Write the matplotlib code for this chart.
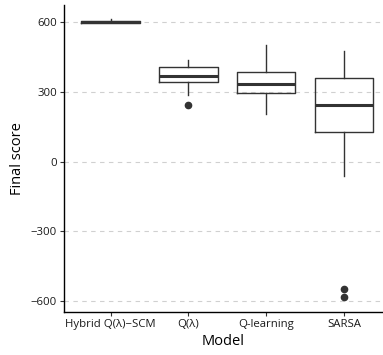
import matplotlib
matplotlib.use("Agg")
import matplotlib.pyplot as plt

plt.rcParams['font.family'] = ['Open Sans', 'DejaVu Sans']

# model names on the x axis
models = ["Hybrid Q(λ)−SCM", "Q(λ)", "Q-learning", "SARSA"]

# box statistics
whisker_low = [597, 285, 206, -63]
q1 = [597, 342, 296, 128]
median = [601, 366, 333, 243]
q3 = [604, 406, 386, 358]
whisker_high = [611, 437, 500, 475]
outliers = [[], [242], [], [-545, -582]]

yticks = [-600, -300, 0, 300, 600]

stats = []
for i, name in enumerate(models):
    stats.append(dict(label=name, whislo=whisker_low[i], q1=q1[i], med=median[i],
                      q3=q3[i], whishi=whisker_high[i], fliers=outliers[i]))

fig = plt.figure(figsize=(3.83, 3.55), dpi=100)
ax = fig.add_axes([0.167, 0.121, 0.833, 0.865])

box_col = "#333333"
ax.bxp(stats, positions=[1, 2, 3, 4], widths=0.75, showcaps=False,
       boxprops=dict(color=box_col, linewidth=1.0),
       whiskerprops=dict(color=box_col, linewidth=1.0),
       medianprops=dict(color=box_col, linewidth=2.2),
       flierprops=dict(marker='o', markerfacecolor=box_col, markeredgecolor=box_col,
                       markersize=4.5))

ax.set_xlim(0.4, 4.5)
ax.set_ylim(-646, 673)
ax.set_yticks(yticks)
ax.set_yticklabels(["\u2212600", "\u2212300", "0", "300", "600"])
ax.yaxis.grid(True, linestyle=(0, (4, 4)), color="#d0d0d0", linewidth=0.8)
ax.set_axisbelow(True)

for s in ["top", "right"]:
    ax.spines[s].set_visible(False)
for s in ["left", "bottom"]:
    ax.spines[s].set_linewidth(1.0)
    ax.spines[s].set_color("black")

ax.tick_params(axis='both', length=3, width=0.8, color="#333333", labelsize=8.2,
               labelcolor="#1a1a1a", pad=2)
ax.set_xlabel("Model", fontsize=10.5, labelpad=3)
ax.set_ylabel("Final score", fontsize=10.5, labelpad=4)

fig.savefig("out.png", dpi=100)
